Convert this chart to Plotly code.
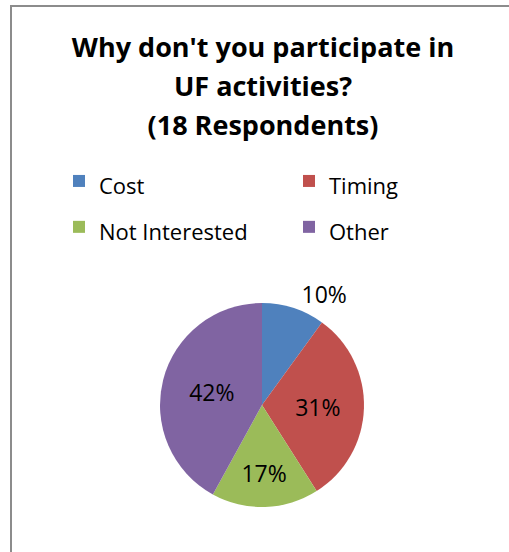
import plotly.graph_objects as go

categories = ["Cost", "Timing", "Not Interested", "Other"]
percents = [10, 31, 17, 42]
colors = ["#4F81BD", "#C0504D", "#9BBB59", "#8064A2"]
title_lines = ["Why don't you participate in", "UF activities?", "(18 Respondents)"]

W, H = 509, 552
FONT = "Open Sans"
TEXT_SIZE = 22
ROW_SIZE = 33      # legend font size that sets the row pitch
TITLE_SIZE = 27
TITLE_PITCH = 30   # title font size that sets the line pitch

legend_labels = [f"<span style='font-size:{TEXT_SIZE}px'>{c}</span>" for c in categories]
title_text = "<br>".join(f"<span style='font-size:{TITLE_SIZE}px'>{t}</span>" for t in title_lines)

fig = go.Figure()
fig.add_trace(go.Pie(
    labels=legend_labels,
    values=percents,
    sort=False,
    direction="clockwise",
    rotation=0,
    marker=dict(colors=colors, line=dict(width=0)),
    textinfo="percent",
    texttemplate="%{percent:.0%}",
    textposition=["outside", "inside", "inside", "inside"],
    insidetextorientation="horizontal",
    textfont=dict(family=FONT, size=23, color="black"),
    domain=dict(x=[(262 - 102) / W, (262 + 102) / W],
                y=[(552 - 405 - 102) / H, (552 - 405 + 102) / H]),
    hovertext=categories,
    hoverinfo="text+percent",
))

fig.update_layout(
    width=W, height=H,
    margin=dict(l=0, r=0, t=0, b=0, autoexpand=False),
    paper_bgcolor="white",
    plot_bgcolor="white",
    title=dict(
        text=title_text,
        x=263 / W, xanchor="center",
        y=1 - 57 / H, yanchor="top",
        font=dict(family=FONT, size=TITLE_PITCH, color="black", weight="bold"),
    ),
    legend=dict(
        orientation="h",
        x=59 / W, xanchor="left",
        y=1 - 153 / H, yanchor="top",
        entrywidth=185,
        bgcolor="rgba(0,0,0,0)",
        font=dict(family=FONT, size=ROW_SIZE, color="black"),
        traceorder="normal",
        itemclick=False,
    ),
    font=dict(family=FONT),
    shapes=[
        dict(type="line", xref="paper", yref="paper",
             x0=11 / W, x1=1, y0=1 - 6 / H, y1=1 - 6 / H,
             line=dict(color="#8C8C8C", width=2)),
        dict(type="line", xref="paper", yref="paper",
             x0=11 / W, x1=11 / W, y0=0, y1=1 - 5 / H,
             line=dict(color="#8C8C8C", width=2)),
    ],
)

fig.write_html("out.html", config={"displayModeBar": False},
               post_script="document.body.style.margin='0';document.body.style.overflow='hidden';")
